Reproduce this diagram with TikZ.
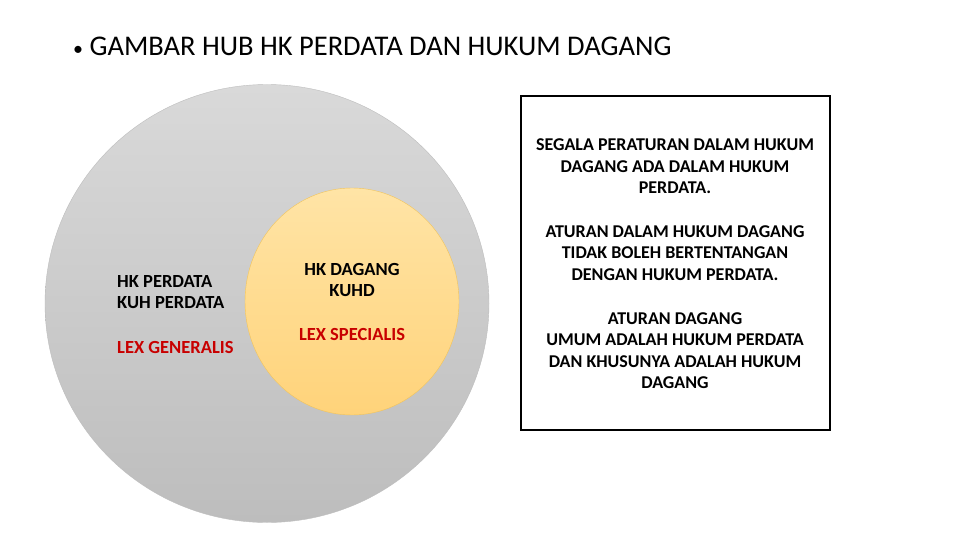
\documentclass[tikz,border=0pt]{standalone}
\usepackage{fontspec}
\setmainfont{Carlito}
\usetikzlibrary{positioning}

\definecolor{lexred}{HTML}{C80000}
\definecolor{greytop}{HTML}{D9D9D9}
\definecolor{greybot}{HTML}{BDBDBD}
\definecolor{goldtop}{HTML}{FFE4A6}
\definecolor{goldbot}{HTML}{FFD37A}
\definecolor{goldline}{HTML}{F2C45A}

\tikzset{
    circletext/.style={font=\bfseries\fontsize{18.5}{21.5}\selectfont, inner sep=0pt},
    boxtext/.style={font=\bfseries\fontsize{18}{21.5}\selectfont, align=center, inner sep=0pt},
}

\begin{document}
\begin{tikzpicture}[x=1pt, y=-1pt]
    \useasboundingbox[fill=white] (0, 0) rectangle (960, 540);

    \node[anchor=west, font=\fontsize{28.5}{32}\selectfont, inner sep=0pt] (title) at (73, 46)
        {{\fontsize{20}{20}\selectfont\textbullet}\ GAMBAR HUB HK PERDATA DAN HUKUM DAGANG};

    % big circle: hukum perdata
    \shade[top color=greytop, bottom color=greybot, draw=greybot] (267, 303.5) ellipse[x radius=222, y radius=219];
    % small circle: hukum dagang
    \shade[top color=goldtop, bottom color=goldbot, draw=goldline] (352, 301.5) ellipse[x radius=107, y radius=113.5];

    \node[circletext, anchor=west, align=left] (perdata) at (117, 292) {HK PERDATA\\KUH PERDATA};
    \node[circletext, lexred, below right=32pt and 0pt of perdata.south west] (generalis) {LEX GENERALIS};

    \node[circletext, align=center] (dagang) at (352, 280) {HK DAGANG\\KUHD};
    \node[circletext, lexred, below=31pt of dagang] (specialis) {LEX SPECIALIS};

    \node[draw, line width=1.5pt, minimum width=309pt, minimum height=334pt] (box) at (675.5, 263) {};

    \node[boxtext] (rule1) at (675, 166.5) {SEGALA PERATURAN DALAM HUKUM\\DAGANG ADA DALAM HUKUM\\PERDATA.};
    \node[boxtext] (rule2) at (675, 253) {ATURAN DALAM HUKUM DAGANG\\TIDAK BOLEH BERTENTANGAN\\DENGAN HUKUM PERDATA.};
    \node[boxtext] (rule3) at (675, 350.5) {ATURAN DAGANG\\UMUM ADALAH HUKUM PERDATA\\DAN KHUSUNYA ADALAH HUKUM\\DAGANG};
\end{tikzpicture}
\end{document}
